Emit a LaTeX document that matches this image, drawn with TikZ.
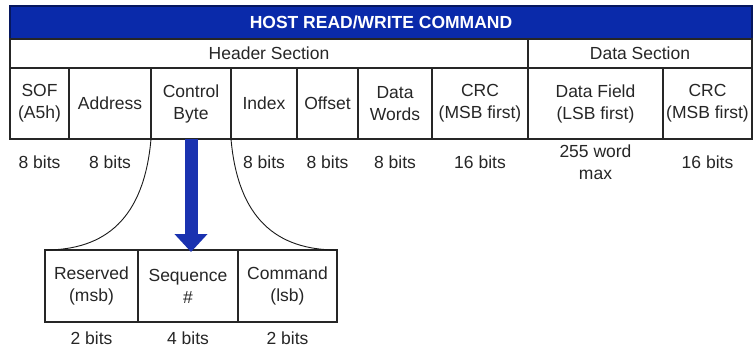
\documentclass[tikz,border=0pt]{standalone}
\usepackage{fontspec}
\setmainfont{Liberation Sans}
\usetikzlibrary{arrows.meta, positioning}

\definecolor{barblue}{RGB}{10,42,170}
\definecolor{arrowblue}{RGB}{26,50,176}
\definecolor{textgray}{RGB}{38,38,38}
\newcommand{\fieldfont}{\fontsize{17.5}{22}\selectfont}

\begin{document}
\begin{tikzpicture}[
    x=1pt, y=-1pt,
    node distance=0pt,
    cell/.style={rectangle, draw=black!85, line width=1.5pt, outer sep=0pt, inner sep=0pt, minimum height=71pt, align=center, font=\fieldfont, text=textgray},
    sect/.style={cell, minimum height=29pt},
    sub/.style={cell, minimum height=72pt},
    bits/.style={inner sep=0pt, align=center, font=\fieldfont, text=textgray},
    curve/.style={draw=black!90, line width=0.9pt},
    bigarrow/.style={-{Triangle[width=32pt,length=18pt]}, line width=13pt, draw=arrowblue}
]
\useasboundingbox (0,0) rectangle (754,350);

% Title bar
\node[cell, fill=barblue, draw=barblue!55!black, minimum width=742pt, minimum height=33pt, anchor=north west, text=white, font=\fieldfont\bfseries] (title) at (10,6) {HOST READ/WRITE COMMAND};

% Sections
\node[sect, minimum width=518pt, anchor=north west] (hdr) at (title.south west) {Header Section};
\node[sect, minimum width=224pt, right=of hdr] (dat) {Data Section};

% Header fields
\node[cell, minimum width=59pt, anchor=north west] (sof) at (hdr.south west) {SOF\\(A5h)};
\node[cell, minimum width=82pt, right=of sof] (addr) {Address};
\node[cell, minimum width=80pt, right=of addr] (ctrl) {Control\\Byte};
\node[cell, minimum width=66pt, right=of ctrl] (idx) {Index};
\node[cell, minimum width=61pt, right=of idx] (ofs) {Offset};
\node[cell, minimum width=74pt, right=of ofs] (words) {Data\\Words};
\node[cell, minimum width=96pt, right=of words] (hcrc) {CRC\\(MSB first)};

% Data fields
\node[cell, minimum width=135pt, anchor=north west] (field) at (dat.south west) {Data Field\\(LSB first)};
\node[cell, minimum width=89pt, right=of field] (dcrc) {CRC\\(MSB first)};

% Field sizes
\node[bits, below=17pt of sof] {8 bits};
\node[bits, below=17pt of addr] {8 bits};
\node[bits, below=17pt of idx] {8 bits};
\node[bits, below=17pt of ofs] {8 bits};
\node[bits, below=17pt of words] {8 bits};
\node[bits, below=17pt of hcrc] {16 bits};
\node[bits, below=6pt of field] {255 word\\max};
\node[bits, below=17pt of dcrc] {16 bits};

% Control byte breakdown
\node[sub, minimum width=93pt, anchor=north west] (resv) at (45,250) {Reserved\\(msb)};
\node[sub, minimum width=100pt, right=of resv] (seq) {Sequence\\\#};
\node[sub, minimum width=99pt, right=of seq] (cmd) {Command\\(lsb)};

\node[bits, below=10pt of resv] {2 bits};
\node[bits, below=10pt of seq] {4 bits};
\node[bits, below=10pt of cmd] {2 bits};

% Expansion lines and arrow
\draw[curve] (ctrl.south west) .. controls +(-7,80) and +(60,0) .. (resv.north west);
\draw[curve] (ctrl.south east) .. controls +(7,80) and +(-60,0) .. (cmd.north east);
\draw[bigarrow] (ctrl.south) -- ([yshift=-2pt]ctrl.south |- seq.north);

\end{tikzpicture}
\end{document}
